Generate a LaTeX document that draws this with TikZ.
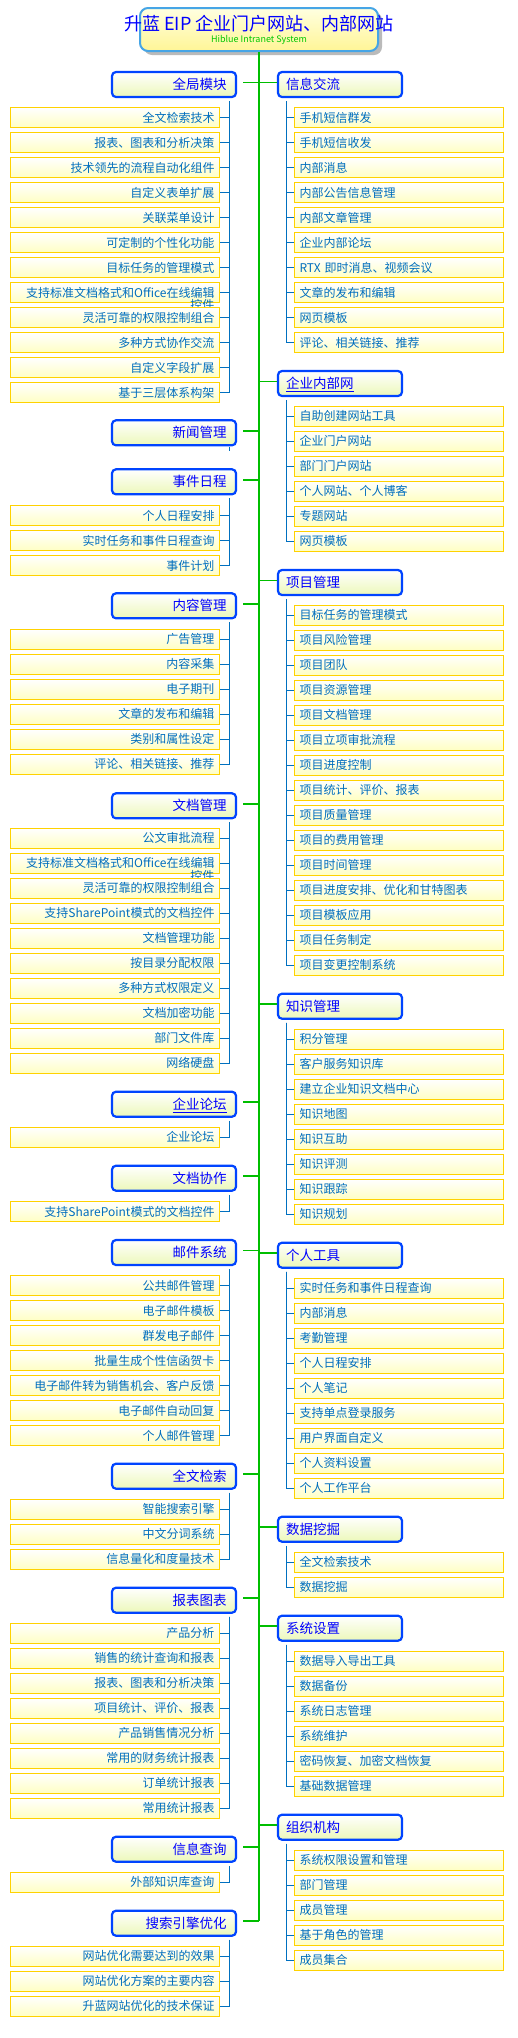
\documentclass[tikz,border=0pt]{standalone}
\usepackage{fontspec}
\setmainfont{Noto Sans CJK SC}
\usetikzlibrary{shadows}
\definecolor{trunkgreen}{RGB}{0,190,0}
\definecolor{mainblue}{RGB}{0,68,255}
\definecolor{maintext}{RGB}{0,0,255}
\definecolor{mainfill}{RGB}{236,248,185}
\definecolor{leafgold}{RGB}{255,210,0}
\definecolor{leaffill}{RGB}{255,255,195}
\definecolor{leaftext}{RGB}{0,110,190}
\definecolor{childblue}{RGB}{0,112,192}
\definecolor{titleblue}{RGB}{70,165,230}
\definecolor{titletop}{RGB}{255,255,225}
\definecolor{titlebot}{RGB}{255,245,150}
\definecolor{subgreen}{RGB}{0,200,0}
\newcommand\Ovf{\makebox[0pt][r]{\raisebox{-12.5pt}[0pt][0pt]{控件}}}
\newcommand\LeftGrp[5]{%
  \node[mainL] (#1) at (174,#2) {#3};
  \draw[trunk] ([xshift=6pt,yshift=2pt]#1.east) -- ([yshift=2pt]#1.east -| T);
  \foreach [count=\i] \t in {#5} {\node[leafL] (#1-\i) at (115,{#4+25*(\i-1)}) {\t};}
  \foreach [count=\i] \t in {#5} {\draw[cl] ([yshift=-3pt]#1.south -| xL) |- (#1-\i.east);}
}
\newcommand\RightGrp[5]{%
  \node[mainR] (#1) at (340,#2) {#3};
  \draw[trunk] ([yshift=2pt]#1.west -| T) -- ([yshift=2pt]#1.west);
  \foreach [count=\i] \t in {#5} {\node[leafR] (#1-\i) at (399,{#4+25*(\i-1)}) {\t};}
  \foreach [count=\i] \t in {#5} {\draw[cl] ([yshift=-3pt]#1.south -| xR) |- (#1-\i.west);}
}
\begin{document}
\begin{tikzpicture}[x=1pt,y=-1pt,
  mainbox/.style={draw=mainblue, line width=2.2pt, rounded corners=4pt,
    minimum width=124pt, minimum height=25pt, top color=white, bottom color=mainfill,
    text=maintext, font=\fontsize{13.5}{14}\selectfont, inner ysep=0pt,
    text height=11.9pt, text depth=1.6pt},
  mainL/.style={mainbox, inner xsep=9.5pt, text width=105pt, align=right},
  mainR/.style={mainbox, inner xsep=8pt, text width=108pt, align=left},
  leaf/.style={draw=leafgold, line width=1pt, minimum width=209pt, minimum height=20pt,
    top color=white, bottom color=leaffill, text=leaftext,
    font=\fontsize{12}{13}\selectfont, inner ysep=0pt, inner xsep=5pt, text width=199pt,
    text height=10.5pt, text depth=1.5pt},
  leafL/.style={leaf, align=right},
  leafR/.style={leaf, align=left},
  trunk/.style={draw=trunkgreen, line width=1.6pt},
  cl/.style={draw=childblue, line width=0.9pt}]
\useasboundingbox (0,0) rectangle (518,2038);
\fill[white] (0,0) rectangle (518,2038);
\coordinate (T) at (259,0);
\coordinate (xL) at (229,0);
\coordinate (xR) at (286,0);

% title
\node[draw=titleblue, line width=2pt, rounded corners=8pt, minimum width=238pt,
  minimum height=43pt, top color=titletop, bottom color=titlebot,
  drop shadow={shadow xshift=4pt, shadow yshift=-4pt, fill=black!45, opacity=0.6}]
  (title) at (259,29.5) {};
\node[text=maintext, font=\fontsize{18}{18}\selectfont] (ttl) at (259,24) {升蓝 EIP 企业门户网站、内部网站};
\node[text=subgreen, font=\fontsize{9}{9}\selectfont] (sub) at (259,40) {Hiblue Intranet System};

% left side
\LeftGrp{lm1}{84.5}{全局模块}{117.5}{全文检索技术, 报表、图表和分析决策, 技术领先的流程自动化组件, 自定义表单扩展, 关联菜单设计, 可定制的个性化功能, 目标任务的管理模式, 支持标准文档格式和Office在线编辑\Ovf, 灵活可靠的权限控制组合, 多种方式协作交流, 自定义字段扩展, 基于三层体系构架}
\node[mainL] (lm2) at (174,432.8) {新闻管理};
\draw[trunk] ([xshift=6pt,yshift=2pt]lm2.east) -- ([yshift=2pt]lm2.east -| T);
\draw[cl] ([yshift=-1pt]lm2.south -| xL) -- ([yshift=-5pt]lm2.south -| xL);
\LeftGrp{lm3}{481.8}{事件日程}{515.7}{个人日程安排, 实时任务和事件日程查询, 事件计划}
\LeftGrp{lm4}{605.8}{内容管理}{639.4}{广告管理, 内容采集, 电子期刊, 文章的发布和编辑, 类别和属性设定, 评论、相关链接、推荐}
\LeftGrp{lm5}{805.8}{文档管理}{838.3}{公文审批流程, 支持标准文档格式和Office在线编辑\Ovf, 灵活可靠的权限控制组合, 支持SharePoint模式的文档控件, 文档管理功能, 按目录分配权限, 多种方式权限定义, 文档加密功能, 部门文件库, 网络硬盘}
\LeftGrp{lm6}{1104.2}{\underline{企业论坛}}{1137.3}{企业论坛}
\LeftGrp{lm7}{1178.2}{文档协作}{1211.7}{支持SharePoint模式的文档控件}
\LeftGrp{lm8}{1252.5}{邮件系统}{1285.7}{公共邮件管理, 电子邮件模板, 群发电子邮件, 批量生成个性信函贺卡, 电子邮件转为销售机会、客户反馈, 电子邮件自动回复, 个人邮件管理}
\LeftGrp{lm9}{1476.2}{全文检索}{1509.3}{智能搜索引擎, 中文分词系统, 信息量化和度量技术}
\LeftGrp{lm10}{1600.2}{报表图表}{1633.3}{产品分析, 销售的统计查询和报表, 报表、图表和分析决策, 项目统计、评价、报表, 产品销售情况分析, 常用的财务统计报表, 订单统计报表, 常用统计报表}
\LeftGrp{lm11}{1849.2}{信息查询}{1882.3}{外部知识库查询}
\LeftGrp{lm12}{1923.2}{搜索引擎优化}{1956.3}{网站优化需要达到的效果, 网站优化方案的主要内容, 升蓝网站优化的技术保证}

% right side
\RightGrp{rm1}{84.5}{信息交流}{117.5}{手机短信群发, 手机短信收发, 内部消息, 内部公告信息管理, 内部文章管理, 企业内部论坛, RTX 即时消息、视频会议, 文章的发布和编辑, 网页模板, 评论、相关链接、推荐}
\RightGrp{rm2}{383.5}{\underline{企业内部网}}{416}{自助创建网站工具, 企业门户网站, 部门门户网站, 个人网站、个人博客, 专题网站, 网页模板}
\RightGrp{rm3}{582.5}{项目管理}{615}{目标任务的管理模式, 项目风险管理, 项目团队, 项目资源管理, 项目文档管理, 项目立项审批流程, 项目进度控制, 项目统计、评价、报表, 项目质量管理, 项目的费用管理, 项目时间管理, 项目进度安排、优化和甘特图表, 项目模板应用, 项目任务制定, 项目变更控制系统}
\RightGrp{rm4}{1006.2}{知识管理}{1039.3}{积分管理, 客户服务知识库, 建立企业知识文档中心, 知识地图, 知识互助, 知识评测, 知识跟踪, 知识规划}
\RightGrp{rm5}{1255.2}{个人工具}{1288.3}{实时任务和事件日程查询, 内部消息, 考勤管理, 个人日程安排, 个人笔记, 支持单点登录服务, 用户界面自定义, 个人资料设置, 个人工作平台}
\RightGrp{rm6}{1529.2}{数据挖掘}{1562.3}{全文检索技术, 数据挖掘}
\RightGrp{rm7}{1628.2}{系统设置}{1661.3}{数据导入导出工具, 数据备份, 系统日志管理, 系统维护, 密码恢复、加密文档恢复, 基础数据管理}
\RightGrp{rm8}{1827.2}{组织机构}{1860.3}{系统权限设置和管理, 部门管理, 成员管理, 基于角色的管理, 成员集合}

% trunk
\draw[trunk] (title.south) -- ([yshift=2pt]lm12.east -| T);
\end{tikzpicture}
\end{document}
